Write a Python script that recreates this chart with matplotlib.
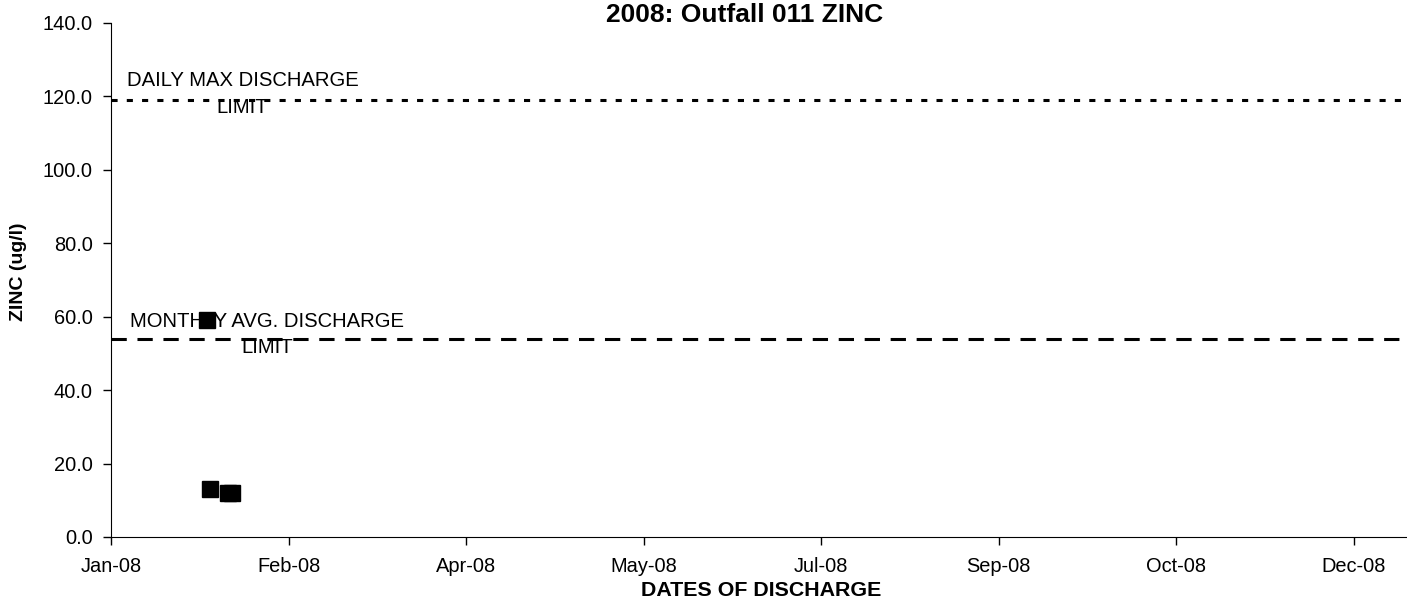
# 2008 Outfall 011 ZINC chart (Excel-style scatter with limit lines)
import pandas as pd
import numpy as np
import matplotlib.pyplot as plt
import matplotlib.dates as mdates

plt.rcParams['font.family'] = ['Liberation Sans', 'DejaVu Sans']

# data
sample_dates = ['2008-01-28', '2008-01-29', '2008-02-03', '2008-02-04']
zinc_values = [59, 13, 12, 12]

daily_max_limit = 119
monthly_avg_limit = 54

limit_labels = ['DAILY MAX DISCHARGE\nLIMIT', 'MONTHLY AVG. DISCHARGE\nLIMIT']

# x axis: Excel date axis, major unit 50 days
x_start = pd.Timestamp('2008-01-01')
x_end = pd.Timestamp('2008-12-31')
tick_dates = pd.date_range(x_start, periods=8, freq='50D')

fig = plt.figure(figsize=(14.07, 6.02), dpi=100)
ax = fig.add_axes([111 / 1407, 1 - 537 / 602, 1 - 111 / 1407, (537 - 23) / 602])

# limit lines
ax.axhline(daily_max_limit, color='black', linewidth=2.2, linestyle=(0, (2, 3)), zorder=2)
ax.axhline(monthly_avg_limit, color='black', linewidth=2.2, linestyle=(0, (5, 3.5)), zorder=2)

# limit labels
ax.text(pd.Timestamp('2008-02-07'), 126.8, limit_labels[0], ha='center', va='top',
        fontsize=14.6, linespacing=1.5, zorder=3)
ax.text(pd.Timestamp('2008-02-14'), 61.4, limit_labels[1], ha='center', va='top',
        fontsize=14.6, linespacing=1.5, zorder=3)

# samples
ax.plot(pd.to_datetime(sample_dates), zinc_values, linestyle='none', marker='s',
        markersize=11.5, color='black', zorder=4)

ax.set_xlim(x_start, x_end)
ax.set_ylim(0, 140)
ax.set_yticks(np.arange(0, 141, 20))
ax.yaxis.set_major_formatter(plt.FormatStrFormatter('%.1f'))
ax.set_xticks(tick_dates)
ax.xaxis.set_major_formatter(mdates.DateFormatter('%b-%y'))

ax.spines['top'].set_visible(False)
ax.spines['right'].set_visible(False)
ax.tick_params(axis='both', direction='out', length=6, width=1, labelsize=14.4)
ax.tick_params(axis='y', pad=7)
ax.tick_params(axis='x', pad=8.5)

# title and axis labels
fig.text(745 / 1407, 1 - 15 / 602, '2008: Outfall 011 ZINC', ha='center', va='center',
         fontsize=19, fontweight='bold')
fig.text(761 / 1407, 1 - 590 / 602, 'DATES OF DISCHARGE', ha='center', va='center',
         fontsize=15.4, fontweight='bold')
fig.text(19 / 1407, 1 - 272 / 602, 'ZINC (ug/l)', ha='center', va='center',
         rotation=90, fontsize=14, fontweight='bold')

fig.savefig('out.png', dpi=100)
